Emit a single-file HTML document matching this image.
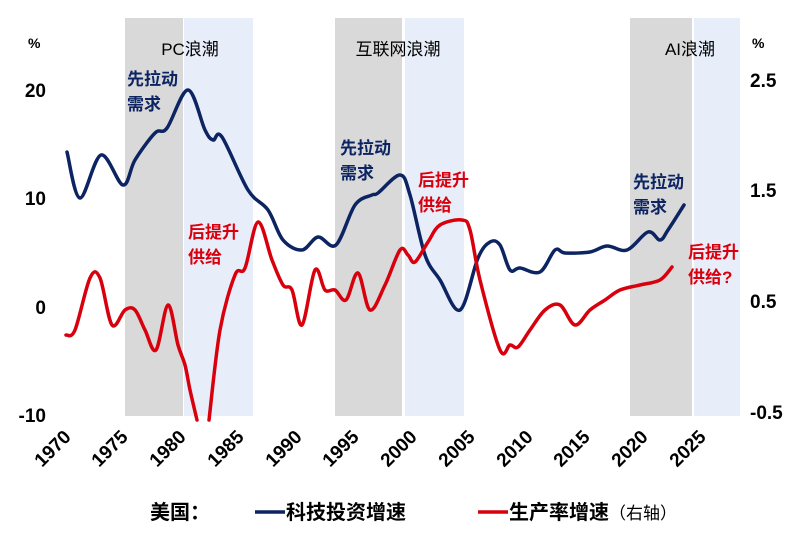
<!DOCTYPE html>
<html><head><meta charset="utf-8"><style>
body{margin:0;background:#fff;}
svg{display:block;font-family:"Liberation Sans","Noto Sans CJK SC",sans-serif;}
</style></head><body>
<svg width="800" height="534" viewBox="0 0 800 534">
<rect x="125" y="18" width="58" height="398" fill="#d9d9d9"/>
<rect x="184" y="18" width="69" height="398" fill="#e8eef9"/>
<rect x="335" y="18" width="67" height="398" fill="#d9d9d9"/>
<rect x="405" y="18" width="59" height="398" fill="#e8eef9"/>
<rect x="630" y="18" width="62" height="398" fill="#d9d9d9"/>
<rect x="694" y="18" width="46" height="398" fill="#e8eef9"/>
<g font-size="17" fill="#000">
<text x="190" y="55" text-anchor="middle">PC浪潮</text>
<text x="398" y="55" text-anchor="middle">互联网浪潮</text>
<text x="690" y="55" text-anchor="middle">AI浪潮</text>
</g>
<g font-size="14" font-weight="bold" fill="#000">
<text x="28" y="48">%</text>
<text x="752" y="48">%</text>
</g>
<g font-size="19" font-weight="bold" fill="#000" text-anchor="end">
<text x="46" y="97">20</text>
<text x="46" y="205">10</text>
<text x="46" y="314">0</text>
<text x="46" y="422">-10</text>
</g>
<g font-size="19" font-weight="bold" fill="#000">
<text x="750" y="87">2.5</text>
<text x="750" y="197">1.5</text>
<text x="750" y="308">0.5</text>
<text x="750" y="419">-0.5</text>
</g>
<g font-size="19" font-weight="bold" fill="#000">
<text transform="translate(72,438) rotate(-45)" text-anchor="end">1970</text>
<text transform="translate(129,438) rotate(-45)" text-anchor="end">1975</text>
<text transform="translate(187,438) rotate(-45)" text-anchor="end">1980</text>
<text transform="translate(245,438) rotate(-45)" text-anchor="end">1985</text>
<text transform="translate(303,438) rotate(-45)" text-anchor="end">1990</text>
<text transform="translate(360,438) rotate(-45)" text-anchor="end">1995</text>
<text transform="translate(418,438) rotate(-45)" text-anchor="end">2000</text>
<text transform="translate(476,438) rotate(-45)" text-anchor="end">2005</text>
<text transform="translate(534,438) rotate(-45)" text-anchor="end">2010</text>
<text transform="translate(591,438) rotate(-45)" text-anchor="end">2015</text>
<text transform="translate(649,438) rotate(-45)" text-anchor="end">2020</text>
<text transform="translate(707,438) rotate(-45)" text-anchor="end">2025</text>
</g>
<path fill="none" stroke="#0c2461" stroke-width="3.5" stroke-linejoin="round" stroke-linecap="round" data-p="67,152 80,198 101,155 123,185 135,160 155,133 167,128 188,90 205,130 213,140 222,137 248,190 268,210 283,240 302,250 318,237 336,245 355,205 372,195 378,193 400,175 410,195 425,255 440,280 460,310 478,258 490,242 500,245 510,270 520,268 540,272 555,250 565,253 590,252 607,246 627,250 648,232 660,240 668,230 684,205"/>
<path fill="none" stroke="#d9000d" stroke-width="3.5" stroke-linejoin="round" stroke-linecap="round" data-p="66,335 75,330 90,278 100,278 112,325 125,310 135,310 145,330 156,350 168,305 178,345 185,365 190,390 197,420"/>
<path fill="none" stroke="#d9000d" stroke-width="3.5" stroke-linejoin="round" stroke-linecap="round" data-p="209,420 220,330 235,275 245,268 258,222 272,260 283,285 292,290 302,325 315,270 325,290 335,290 346,300 358,273 370,310 385,285 400,250 408,255 415,262 428,242 440,225 462,220 470,230 480,280 500,350 510,345 518,347 530,330 545,310 560,305 575,325 590,310 605,300 620,290 640,285 660,280 672,267"/>
<g font-size="17" font-weight="bold" fill="#0c2461">
<text x="127" y="85">先拉动</text><text x="127" y="110">需求</text>
<text x="340" y="154">先拉动</text><text x="340" y="179">需求</text>
<text x="633" y="188">先拉动</text><text x="633" y="213">需求</text>
</g>
<g font-size="17" font-weight="bold" fill="#d9000d">
<text x="188" y="238">后提升</text><text x="188" y="263">供给</text>
<text x="418" y="186">后提升</text><text x="418" y="211">供给</text>
<text x="688" y="258">后提升</text><text x="688" y="283">供给?</text>
</g>
<g font-size="20" font-weight="bold" fill="#000">
<text x="150" y="519">美国：</text>
<line x1="255" y1="512" x2="285" y2="512" stroke="#0c2461" stroke-width="3.5"/>
<text x="286" y="519">科技投资增速</text>
<line x1="478" y1="512" x2="508" y2="512" stroke="#d9000d" stroke-width="3.5"/>
<text x="509" y="519">生产率增速<tspan font-size="17" font-weight="normal">（右轴）</tspan></text>
</g>
</svg>
<script>
document.querySelectorAll('path[data-p]').forEach(function(el){
var p=el.getAttribute('data-p').trim().split(/\s+/).map(function(s){return s.split(',').map(Number);});
var d='M'+p[0][0]+','+p[0][1];
for(var i=0;i<p.length-1;i++){
var p0=p[i-1]||p[i],p1=p[i],p2=p[i+1],p3=p[i+2]||p2,t=1/6;
d+=' C'+(p1[0]+(p2[0]-p0[0])*t)+','+(p1[1]+(p2[1]-p0[1])*t)+' '+(p2[0]-(p3[0]-p1[0])*t)+','+(p2[1]-(p3[1]-p1[1])*t)+' '+p2[0]+','+p2[1];}
el.setAttribute('d',d);el.removeAttribute('data-p');});
</script>
</body></html>
